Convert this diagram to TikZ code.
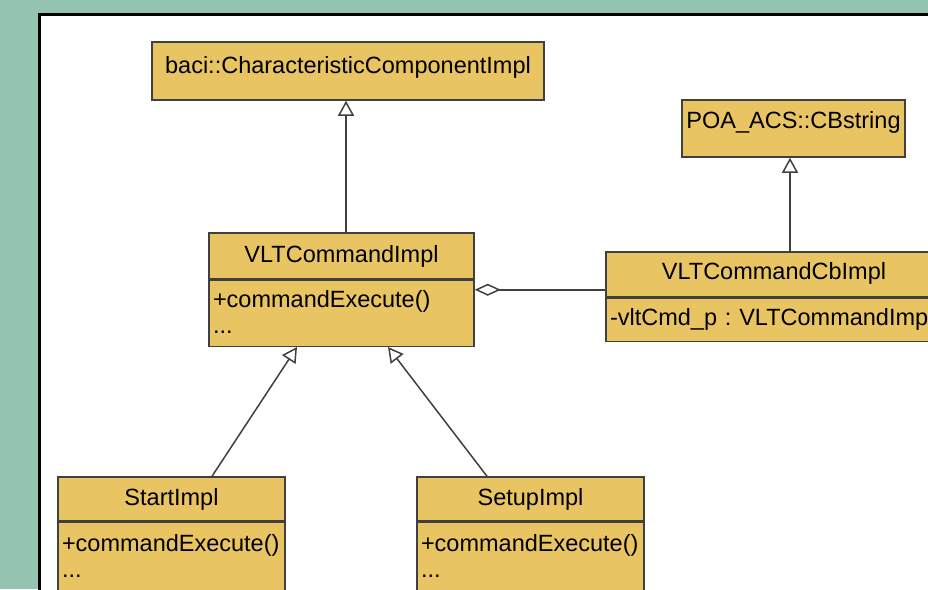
\documentclass[tikz,border=0pt]{standalone}
\usepackage{fontspec}
\setmainfont{Liberation Sans}
\usetikzlibrary{arrows.meta,positioning,calc}

\definecolor{umlfill}{RGB}{233,196,98}
\definecolor{umlline}{RGB}{64,64,64}
\definecolor{backdrop}{RGB}{148,196,176}

\tikzstyle{classname}=[draw=umlline, fill=umlfill, line width=1.5pt,
  inner xsep=0pt, inner ysep=0pt, text centered,
  font=\fontsize{23.5}{26}\selectfont\frenchspacing]
\tikzstyle{members}=[classname, inner xsep=4pt, align=left]
\tikzstyle{inherit}=[draw=umlline, line width=1.5pt,
  -{Triangle[open,length=15pt,width=16pt]}]
\tikzstyle{aggregation}=[draw=umlline, line width=1.5pt,
  {Diamond[open,length=26pt,width=12pt]}-]

\begin{document}
\begin{tikzpicture}[x=1pt,y=-1pt]
  \fill[backdrop] (0,0) rectangle (928,589);
  \useasboundingbox (0,0) rectangle (928,589);
  \clip (0,0) rectangle (928,589);
  \draw[line width=3pt, fill=white] (39.7,14.7) rectangle (1000,700);

  \node(baci)[classname, minimum width=392pt, text height=31pt, text depth=27pt]
    at (348,71) {baci::CharacteristicComponentImpl};

  \node(poa)[classname, minimum width=223pt, text height=28pt, text depth=29pt]
    at (793.5,128.5) {POA\_ACS::CBstring};

  \path(baci.south)+(-6.5,155) node(vltname)[classname, minimum width=265pt,
    text height=30pt, text depth=16pt]{VLTCommandImpl};
  \path(vltname.south) node(vltops)[members, anchor=north, text width=257pt,
    text height=27pt, text depth=39pt]{
    +commandExecute()\\
    ...
  };
  \draw[inherit] ([xshift=4.5pt]vltname.north) -- ([xshift=-2pt]baci.south);

  \path(poa.south)+(-19.5,116.5) node(cbname)[classname, minimum width=336pt,
    text height=28pt, text depth=17pt]{VLTCommandCbImpl};
  \path(cbname.south) node(cbattrs)[members, anchor=north, text width=328pt,
    text height=27pt, text depth=16pt]{-vltCmd\_p : VLTCommandImpl};
  \draw[inherit] ([xshift=16pt]cbname.north) -- ([xshift=-3.5pt]poa.south);
  \coordinate(aggend) at ([yshift=-15.5pt]cbname.west);
  \draw[aggregation] (vltops.east |- aggend) -- (aggend);

  \path(vltops.south)+(-170,152) node(startname)[classname, minimum width=227pt,
    text height=28pt, text depth=16pt]{StartImpl};
  \path(startname.south) node(startops)[members, anchor=north, text width=219pt,
    text height=29pt, text depth=46pt]{
    +commandExecute()\\
    ...
  };
  \draw[inherit] ([xshift=40.5pt]startname.north) -- ([xshift=-44.5pt]vltops.south);

  \path(vltops.south)+(189,152) node(setupname)[classname, minimum width=227pt,
    text height=28pt, text depth=16pt]{SetupImpl};
  \path(setupname.south) node(setupops)[members, anchor=north, text width=219pt,
    text height=29pt, text depth=46pt]{
    +commandExecute()\\
    ...
  };
  \draw[inherit] ([xshift=-43.5pt]setupname.north) -- ([xshift=46.5pt]vltops.south);
\end{tikzpicture}
\end{document}
